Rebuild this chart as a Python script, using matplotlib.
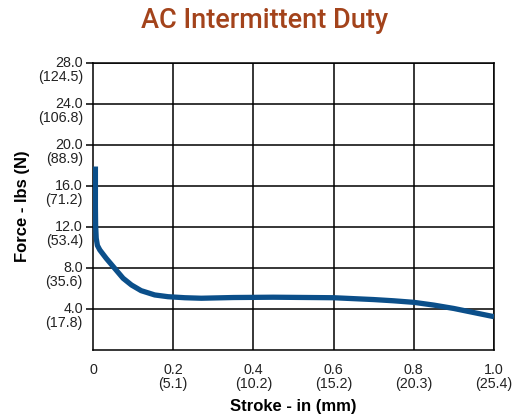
import matplotlib
matplotlib.use("Agg")
import matplotlib.pyplot as plt
from matplotlib.transforms import ScaledTranslation

# Data
stroke_in = [0.006, 0.006, 0.0065, 0.008, 0.011, 0.017, 0.033, 0.054, 0.075, 0.096,
             0.12, 0.154, 0.187, 0.229, 0.27, 0.35, 0.45, 0.6, 0.7, 0.75, 0.8,
             0.85, 0.9, 1.0]
force_lbs = [17.9, 14.0, 12.2, 10.9, 10.2, 9.76, 8.94, 7.97, 7.0, 6.34,
             5.79, 5.37, 5.2, 5.1, 5.05, 5.12, 5.15, 5.1, 4.92, 4.8, 4.65,
             4.38, 4.05, 3.25]

y_ticks = [4.0, 8.0, 12.0, 16.0, 20.0, 24.0, 28.0]
y_ticks_n = ["(17.8)", "(35.6)", "(53.4)", "(71.2)", "(88.9)", "(106.8)", "(124.5)"]
x_ticks = [0.2, 0.4, 0.6, 0.8, 1.0]
x_ticks_mm = ["(5.1)", "(10.2)", "(15.2)", "(20.3)", "(25.4)"]

plt.rcParams['font.family'] = ['Liberation Sans', 'DejaVu Sans']

fig = plt.figure(figsize=(5.24, 4.20), dpi=100)
ax = fig.add_axes([93/524, 1 - 350/420, (494 - 93)/524, (350 - 63)/420])

ax.set_xlim(0, 1.0)
ax.set_ylim(0, 28)

for yv in y_ticks:
    ax.axhline(yv, color='black', lw=1.1, zorder=1)
for xv in x_ticks:
    ax.axvline(xv, color='black', lw=1.1, zorder=1)

ax.plot(stroke_in, force_lbs, color='#0b4f8a', lw=3.8, solid_capstyle='butt',
        solid_joinstyle='round', zorder=3)

for s in ax.spines.values():
    s.set_color('black')
    s.set_linewidth(1.1)

ax.set_yticks(y_ticks)
ax.set_yticklabels([])
ax.tick_params(axis='y', direction='out', length=5, width=1.1, color='black')
ax.set_xticks(x_ticks)
ax.set_xticklabels([])
ax.tick_params(axis='x', length=0)

fs = 10.3
ytr = ax.get_yaxis_transform()
off_y = ScaledTranslation(-10/100, 7/100, fig.dpi_scale_trans)
for yv, n in zip(y_ticks, y_ticks_n):
    ax.text(0, yv, f"{yv:.1f}\n{n}", transform=ytr + off_y, ha='right', va='top',
            fontsize=fs, color='#222222', linespacing=1.0)

xtr = ax.get_xaxis_transform()
off_x = ScaledTranslation(0, -13/100, fig.dpi_scale_trans)
ax.text(0, 0, "0", transform=xtr + off_x, ha='center', va='top', fontsize=fs,
        color='#222222')
for xv, mm in zip(x_ticks, x_ticks_mm):
    ax.text(xv, 0, f"{xv:.1f}\n{mm}", transform=xtr + off_x, ha='center', va='top',
            fontsize=fs, color='#222222', linespacing=1.0)

fig.text(293.5/524, 1 - 407/420, "Stroke - in (mm)", ha='center', va='center',
         fontsize=12, fontweight='bold')
fig.text(23/524, 1 - 206.5/420, "Force - lbs (N)", ha='center', va='center',
         rotation=90, fontsize=12, fontweight='bold')

fig.text(265/524, 1 - 21/420, "AC Intermittent Duty", ha='center', va='center',
         fontsize=19.5, color='#a3431b', fontweight='medium',
         family=['Roboto', 'DejaVu Sans'])

fig.savefig("out.png", dpi=100)
